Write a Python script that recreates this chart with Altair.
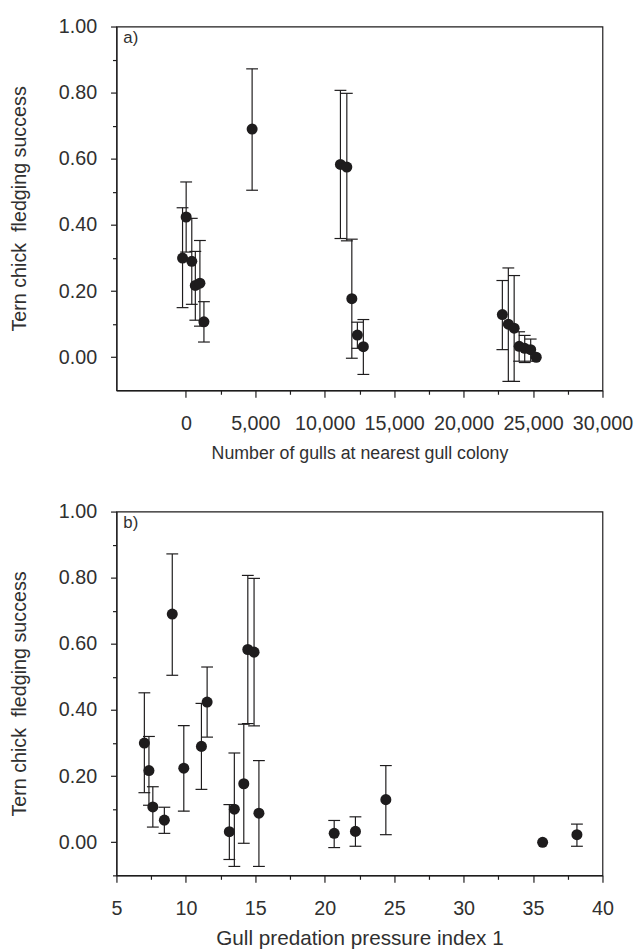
import altair as alt
import pandas as pd

# ---- data ----
site = list(range(1, 20))
gulls_nearest = [-240, 20, 425, 680, 1010, 1300, 4770, 11130, 11590, 11950,
                 12350, 12780, 22790, 23220, 23640, 24000, 24400, 24830, 25230]
gull_pressure = [7.01, 11.53, 11.12, 7.34, 9.85, 7.62, 9.02, 14.46, 14.91, 14.17,
                 8.45, 13.13, 24.4, 13.49, 15.26, 22.21, 20.68, 38.16, 35.69]
success = [0.300, 0.424, 0.290, 0.217, 0.224, 0.107, 0.690, 0.583, 0.575, 0.177,
           0.067, 0.032, 0.129, 0.100, 0.088, 0.033, 0.027, 0.023, 0.000]
lower = [0.150, 0.318, 0.160, 0.112, 0.094, 0.046, 0.505, 0.359, 0.352, -0.003,
         0.027, -0.052, 0.023, -0.073, -0.073, -0.012, -0.016, -0.012, None]
upper = [0.452, 0.530, 0.420, 0.320, 0.353, 0.168, 0.872, 0.807, 0.798, 0.357,
         0.106, 0.114, 0.232, 0.270, 0.247, 0.077, 0.066, 0.055, None]

x_ticks_a = [0, 2500, 5000, 7500, 10000, 12500, 15000, 17500, 20000, 22500, 25000, 27500, 30000]
x_ticks_b = [5, 7.5, 10, 12.5, 15, 17.5, 20, 22.5, 25, 27.5, 30, 32.5, 35, 37.5, 40]
y_ticks_a = [0.0, 0.1, 0.2, 0.3, 0.4, 0.5, 0.6, 0.7, 0.8, 0.9, 1.0]
y_ticks_b = [-0.1] + y_ticks_a

df = pd.DataFrame({
    "site": site,
    "gulls": gulls_nearest,
    "gpp": gull_pressure,
    "success": success,
    "lower": lower,
    "upper": upper,
})

INK = "#1e1c1d"
TXT = "#303030"
FONT = "Liberation Sans"
W, H = 493, 369

Y_TITLE = "Tern chick\u00a0 fledging success"


def y_axis(values):
    return alt.Axis(
        values=values,
        title=Y_TITLE,
        labelExpr="abs(round(datum.value*10)) % 2 == 0 ? format(datum.value, '.2f') : ''",
        tickSize={"condition": {"test": "abs(round(datum.value*10)) % 2 == 0", "value": 6}, "value": 4},
        labelPadding=14,
        titlePadding=29,
        titleFontSize=20,
    )


def panel(xfield, domain, xvalues, major, fmt, xtitle, xtitle_size, xtitle_pad, label, yvalues):
    xaxis = alt.Axis(
        values=xvalues,
        title=xtitle,
        labelExpr=f"datum.value % {major} == 0 ? format(datum.value, '{fmt}') : ''",
        tickSize={"condition": {"test": f"datum.value % {major} == 0", "value": 7}, "value": 4},
        labelPadding=17,
        labelFlush=False,
        labelOverlap=False,
        titlePadding=xtitle_pad,
        titleFontSize=xtitle_size,
    )
    xs = alt.Scale(domain=domain, nice=False, zero=False)
    ys = alt.Scale(domain=[-0.1, 1.0], nice=False, zero=False)
    ya = y_axis(yvalues)
    base = alt.Chart(df).encode(x=alt.X(f"{xfield}:Q", scale=xs, axis=xaxis))
    bars = base.mark_rule(color=INK, strokeWidth=1.2).encode(
        y=alt.Y("lower:Q", scale=ys, axis=ya), y2="upper:Q")
    cap_lo = base.mark_tick(orient="horizontal", size=12, thickness=1.2, color=INK, opacity=1).encode(
        y=alt.Y("lower:Q", scale=ys, axis=ya))
    cap_hi = base.mark_tick(orient="horizontal", size=12, thickness=1.2, color=INK, opacity=1).encode(
        y=alt.Y("upper:Q", scale=ys, axis=ya))
    pts = base.mark_circle(size=125, color=INK, opacity=1).encode(
        y=alt.Y("success:Q", scale=ys, axis=ya))
    tag = alt.Chart(pd.DataFrame({"t": [label]})).mark_text(
        align="left", baseline="top", font=FONT, fontSize=17, color=TXT
    ).encode(x=alt.value(7), y=alt.value(4), text="t:N")
    return alt.layer(bars, cap_lo, cap_hi, pts, tag).properties(width=W, height=H)


pa = panel("gulls", [-5000, 30000], x_ticks_a, 5000, ",",
           "Number of gulls at nearest gull colony", 18, 11, "a)", y_ticks_a)
pb = panel("gpp", [5, 40], x_ticks_b, 5, "d",
           "Gull predation pressure index 1", 21, 9, "b)", y_ticks_b)

chart = alt.vconcat(pa, pb, spacing=38).properties(
    padding={"left": 1, "top": 1, "right": 2, "bottom": 0}
).configure_view(
    stroke=INK, strokeWidth=1.2
).configure_axis(
    grid=False,
    domainColor=INK, domainWidth=1.2,
    tickColor=INK, tickWidth=1.2,
    labelColor=TXT, titleColor=TXT,
    labelFont=FONT, titleFont=FONT,
    labelFontSize=20, titleFontWeight="normal",
)

chart.save("out.html", embed_options={"renderer": "svg", "actions": False})
